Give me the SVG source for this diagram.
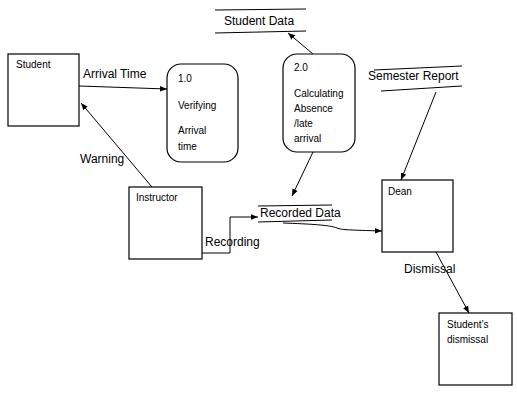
<svg xmlns="http://www.w3.org/2000/svg" width="517" height="401" viewBox="0 0 517 401">
<style>
.box{fill:#fff;stroke:#000;stroke-width:1.2}
.ln{fill:none;stroke:#000;stroke-width:1}
.lbl{font-family:"Liberation Sans",Arial,sans-serif;font-size:12px;fill:#000}
.nt{font-family:"Liberation Sans",Arial,sans-serif;font-size:10px;fill:#000}
</style>
<defs>
<marker id="ah" viewBox="0 0 10 10" refX="10" refY="5" markerWidth="7" markerHeight="7" orient="auto" markerUnits="userSpaceOnUse">
<path d="M0,1 L10,5 L0,9 z" fill="#000"/>
</marker>
</defs>
<rect width="517" height="401" fill="#fff"/>
<g id="student"><rect class="box" x="8" y="54" width="71" height="72"/><text class="nt" x="16" y="68">Student</text></g>
<g id="p1"><rect class="box" x="167" y="64" width="71" height="98" rx="14"/><text class="nt" x="178" y="82">1.0</text><text class="nt" x="178" y="109">Verifying</text><text class="nt" x="178" y="134">Arrival</text><text class="nt" x="178" y="150">time</text></g>
<g id="p2"><rect class="box" x="283" y="54" width="72" height="98" rx="14"/><text class="nt" x="294" y="71">2.0</text><text class="nt" x="294" y="97">Calculating</text><text class="nt" x="294" y="112">Absence</text><text class="nt" x="294" y="127">/late</text><text class="nt" x="294" y="142">arrival</text></g>
<g id="studentdata"><line class="ln" x1="215" y1="10" x2="306" y2="9"/><line class="ln" x1="215" y1="33" x2="306" y2="31"/><text class="lbl" x="224" y="25">Student Data</text></g>
<g id="semester"><line class="ln" x1="374" y1="70" x2="462" y2="66"/><line class="ln" x1="381" y1="91" x2="462" y2="86"/><text class="lbl" x="368" y="80">Semester Report</text></g>
<g id="instructor"><rect class="box" x="129" y="187" width="73" height="72"/><text class="nt" x="136" y="201">Instructor</text></g>
<g id="recorded"><line class="ln" x1="258" y1="206" x2="332" y2="205"/><line class="ln" x1="258" y1="222" x2="332" y2="220"/><text class="lbl" x="260" y="217">Recorded Data</text></g>
<g id="dean"><rect class="box" x="382" y="180" width="71" height="72"/><text class="nt" x="388" y="195">Dean</text></g>
<g id="dismissal"><rect class="box" x="439" y="313" width="73" height="72"/><text class="nt" x="447" y="328">Student’s</text><text class="nt" x="447" y="343">dismissal</text></g>
<g id="connectors">
<line class="ln" x1="79" y1="86" x2="167" y2="89" marker-end="url(#ah)"/>
<text class="lbl" x="83" y="78">Arrival Time</text>
<line class="ln" x1="152" y1="187" x2="81" y2="103" marker-end="url(#ah)"/>
<text class="lbl" x="80" y="163">Warning</text>
<line class="ln" x1="313" y1="54" x2="288" y2="33" marker-end="url(#ah)"/>
<line class="ln" x1="436" y1="92" x2="401" y2="180" marker-end="url(#ah)"/>
<line class="ln" x1="313" y1="152" x2="292" y2="196" marker-end="url(#ah)"/>
<polyline class="ln" points="202,253 230,253 230,217 258,217" marker-end="url(#ah)"/>
<text class="lbl" x="205" y="246">Recording</text>
<path class="ln" d="M283,223 C310,224 330,225 337,228 C342,230 350,230 382,231" marker-end="url(#ah)"/>
<line class="ln" x1="436" y1="252" x2="469" y2="313" marker-end="url(#ah)"/>
<text class="lbl" x="404" y="273">Dismissal</text>
</g>
</svg>
